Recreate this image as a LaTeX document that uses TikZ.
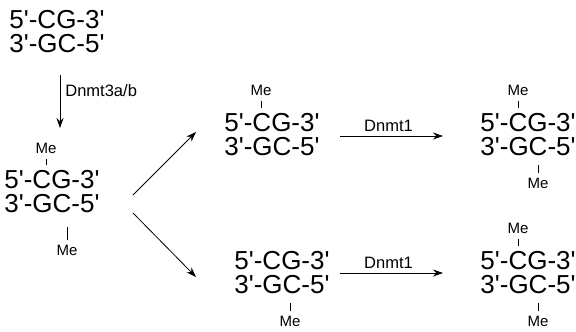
\documentclass[tikz,border=0pt]{standalone}
\usepackage{fontspec}
\setmainfont{Liberation Sans}[Ligatures=TeXOff]
\usetikzlibrary{arrows.meta,positioning}

\begin{document}
\begin{tikzpicture}[x=1pt,y=-1pt,
   strand/.style={font=\fontsize{26}{26}\selectfont,inner sep=0pt,anchor=base},
   me/.style={font=\fontsize{15}{15}\selectfont,inner sep=0pt},
   enzyme/.style={font=\fontsize{16.5}{16.5}\selectfont,inner sep=0pt},
   react/.style={-{Stealth[length=10pt,width=7pt]},line width=0.8pt},
   tick/.style={line width=0.8pt,shorten <=5pt,shorten >=5pt}]
\useasboundingbox (0,0) rectangle (576,332);
% unmethylated
\node[strand] (a1) at (57,28) {5'-CG-3'};
\node[strand] (a2) at (57,52) {3'-GC-5'};
\coordinate (d3a) at (60,75);
\coordinate (d3b) at (60,128);
\draw[react] (d3a) -- node[enzyme,pos=0.3,right=5pt] {Dnmt3a/b} (d3b);
% fully methylated
\node[strand] (b1) at (52,188) {5'-CG-3'};
\node[strand] (b2) at (52,212) {3'-GC-5'};
\node[me,above=16pt of b1,xshift=-6pt] (bme1) {Me};
\node[me,below=33pt of b2,xshift=15pt] (bme2) {Me};
\draw[tick] (bme1) -- (bme1 |- b1.north);
\draw[tick,shorten >=15pt] (bme2) -- (bme2 |- b2.south);
\coordinate (up0) at (133,195);
\coordinate (up1) at (196,132);
\coordinate (dn0) at (133,213);
\coordinate (dn1) at (196,277);
\draw[react] (up0) -- (up1);
\draw[react] (dn0) -- (dn1);
% hemimethylated, upper
\node[strand] (c1) at (272,131) {5'-CG-3'};
\node[strand] (c2) at (272,155) {3'-GC-5'};
\node[me,above=17pt of c1,xshift=-11pt] (cme1) {Me};
\draw[tick] (cme1) -- (cme1 |- c1.north);
\coordinate (u0) at (340,136);
\coordinate (u1) at (443,136);
\draw[react] (u0) -- node[enzyme,above=4pt,xshift=-3pt] {Dnmt1} (u1);
\node[strand] (d1) at (528,131) {5'-CG-3'};
\node[strand] (d2) at (528,155) {3'-GC-5'};
\node[me,above=17pt of d1,xshift=-10pt] (dme1) {Me};
\node[me,below=23pt of d2,xshift=10pt] (dme2) {Me};
\draw[tick] (dme1) -- (dme1 |- d1.north);
\draw[tick,shorten >=10pt] (dme2) -- (dme2 |- d2.south);
% hemimethylated, lower
\node[strand] (e1) at (282,269) {5'-CG-3'};
\node[strand] (e2) at (282,293) {3'-GC-5'};
\node[me,below=23pt of e2,xshift=8pt] (eme2) {Me};
\draw[tick,shorten >=10pt] (eme2) -- (eme2 |- e2.south);
\coordinate (l0) at (340,273);
\coordinate (l1) at (443,273);
\draw[react] (l0) -- node[enzyme,above=4pt,xshift=-3pt] {Dnmt1} (l1);
\node[strand] (f1) at (528,269) {5'-CG-3'};
\node[strand] (f2) at (528,293) {3'-GC-5'};
\node[me,above=17pt of f1,xshift=-10pt] (fme1) {Me};
\node[me,below=23pt of f2,xshift=10pt] (fme2) {Me};
\draw[tick] (fme1) -- (fme1 |- f1.north);
\draw[tick,shorten >=10pt] (fme2) -- (fme2 |- f2.south);
\end{tikzpicture}
\end{document}
